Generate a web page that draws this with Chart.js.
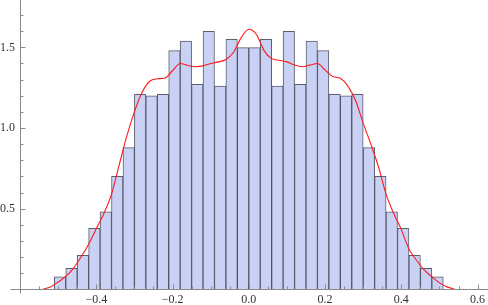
<!DOCTYPE html>
<html>
<head>
<meta charset="utf-8">
<script src="https://cdn.jsdelivr.net/npm/chart.js@4.4.1/dist/chart.umd.min.js"></script>
<style>
  html, body { margin: 0; padding: 0; background: #fff; }
  #wrap { width: 488px; height: 305px; }
</style>
</head>
<body>
<div id="wrap"><canvas id="myChart"></canvas></div>
<script>
// Histogram: bin centres (bin width 0.03) and bar heights
const binCenters = [-0.495, -0.465, -0.435, -0.405, -0.375, -0.345, -0.315, -0.285, -0.255, -0.225,
    -0.195, -0.165, -0.135, -0.105, -0.075, -0.045, -0.015, 0.015, 0.045, 0.075,
    0.105, 0.135, 0.165, 0.195, 0.225, 0.255, 0.285, 0.315, 0.345, 0.375,
    0.405, 0.435, 0.465, 0.495];
const binHeights = [0.078, 0.13, 0.21, 0.378, 0.48, 0.70, 0.878, 1.209, 1.20, 1.209,
    1.48, 1.539, 1.271, 1.60, 1.26, 1.55, 1.498, 1.498, 1.55, 1.26,
    1.60, 1.271, 1.539, 1.48, 1.209, 1.20, 1.209, 0.878, 0.70, 0.48,
    0.378, 0.21, 0.13, 0.078];

// Smooth density curve (red)
const curveX = [-0.54, -0.52, -0.50, -0.48, -0.46, -0.44, -0.42, -0.40, -0.38, -0.36,
    -0.34, -0.32, -0.30, -0.28, -0.26, -0.24, -0.22, -0.20, -0.18, -0.16,
    -0.14, -0.12, -0.10, -0.08, -0.06, -0.04, -0.02, 0.00, 0.02, 0.04,
    0.06, 0.08, 0.10, 0.12, 0.14, 0.16, 0.18, 0.20, 0.22, 0.24,
    0.26, 0.28, 0.30, 0.32, 0.34, 0.36, 0.38, 0.40, 0.42, 0.44,
    0.46, 0.48, 0.50, 0.52, 0.54];
const curveY = [0, 0.015, 0.045, 0.08, 0.13, 0.20, 0.28, 0.375, 0.47, 0.59,
    0.77, 0.95, 1.10, 1.22, 1.29, 1.305, 1.31, 1.355, 1.40, 1.388,
    1.38, 1.385, 1.40, 1.41, 1.425, 1.47, 1.56, 1.612, 1.58, 1.48,
    1.43, 1.42, 1.41, 1.39, 1.38, 1.39, 1.40, 1.36, 1.32, 1.308,
    1.26, 1.17, 1.03, 0.90, 0.76, 0.59, 0.47, 0.37, 0.25, 0.18,
    0.12, 0.078, 0.04, 0.015, 0];

// Tick labels
const xTickValues = [-0.4, -0.2, 0.0, 0.2, 0.4, 0.6];
const xTickLabels = ['\u22120.4', '\u22120.2', '0.0', '0.2', '0.4', '0.6'];
const yTickValues = [0.5, 1.0, 1.5];
const yTickLabels = ['0.5', '1.0', '1.5'];

const axisColor = '#8a8a8a';
const labelColor = '#333333';
const labelFont = { family: "'Liberation Serif', 'DejaVu Serif', 'Times New Roman', serif", size: 12 };

// Mathematica-style axes: lines through the origin, ticks pointing inward
const axesPlugin = {
    id: 'mmaAxes',
    afterDatasetsDraw(chart) {
        const c = chart.ctx;
        const xs = chart.scales.x;
        const ys = chart.scales.y;
        const y0 = Math.round(ys.getPixelForValue(0)) + 0.5;
        const x0 = Math.round(xs.getPixelForValue(xs.min)) + 0.5;
        c.save();
        c.strokeStyle = axisColor;
        c.lineWidth = 1;
        c.beginPath();
        c.moveTo(x0 - 10, y0);
        c.lineTo(chart.width, y0);
        c.moveTo(x0, 0);
        c.lineTo(x0, y0 + 4);
        // x ticks every 0.05, major every 0.2
        for (let k = -11; k <= 12; k++) {
            const px = Math.round(xs.getPixelForValue(k * 0.05)) + 0.5;
            const len = (k % 4 === 0) ? 5 : 3;
            c.moveTo(px, y0);
            c.lineTo(px, y0 - len);
        }
        // y ticks every 0.1, major every 0.5
        for (let k = 1; k <= 17; k++) {
            const py = Math.round(ys.getPixelForValue(k * 0.1)) + 0.5;
            const len = (k % 5 === 0) ? 5 : 3;
            c.moveTo(x0, py);
            c.lineTo(x0 + len, py);
        }
        c.stroke();
        c.restore();
    }
};

const ctx = document.getElementById('myChart').getContext('2d');
const myChart = new Chart(ctx, {
    type: 'bar',
    data: {
        datasets: [{
            type: 'line',
            data: curveX.map((x, i) => ({ x: x, y: curveY[i] })),
            borderColor: 'rgb(255, 25, 25)',
            borderWidth: 1.1,
            pointRadius: 0,
            cubicInterpolationMode: 'monotone',
            fill: false,
            order: 0
        }, {
            type: 'bar',
            data: binCenters.map((x, i) => ({ x: x, y: binHeights[i] })),
            backgroundColor: 'rgb(201, 209, 245)',
            borderColor: 'rgba(62, 66, 84, 0.85)',
            borderWidth: 1,
            barPercentage: 1,
            categoryPercentage: 1,
            order: 1
        }]
    },
    options: {
        responsive: true,
        maintainAspectRatio: false,
        animation: false,
        layout: { padding: 0 },
        plugins: {
            legend: { display: false },
            tooltip: { enabled: false }
        },
        scales: {
            x: {
                type: 'linear',
                min: -0.6,
                max: 0.6273,
                offset: false,
                grid: { display: false, drawTicks: false },
                border: { display: false },
                afterBuildTicks: (scale) => { scale.ticks = xTickValues.map(v => ({ value: v })); },
                afterFit: (scale) => {
                    scale.height = 15.7;
                    scale.paddingLeft = 0;
                    scale.paddingRight = 0;
                },
                ticks: {
                    autoSkip: false,
                    maxRotation: 0,
                    padding: 3,
                    color: labelColor,
                    font: labelFont,
                    callback: (v, i) => xTickLabels[i]
                }
            },
            y: {
                min: 0,
                max: 1.7936,
                grid: { display: false, drawTicks: false },
                border: { display: false },
                afterBuildTicks: (scale) => { scale.ticks = yTickValues.map(v => ({ value: v })); },
                afterFit: (scale) => {
                    scale.width = 20;
                    scale.paddingTop = 0;
                    scale.paddingBottom = 0;
                },
                ticks: {
                    padding: 5,
                    color: labelColor,
                    font: labelFont,
                    callback: (v, i) => yTickLabels[i]
                }
            }
        }
    },
    plugins: [axesPlugin]
});
</script>
</body>
</html>
